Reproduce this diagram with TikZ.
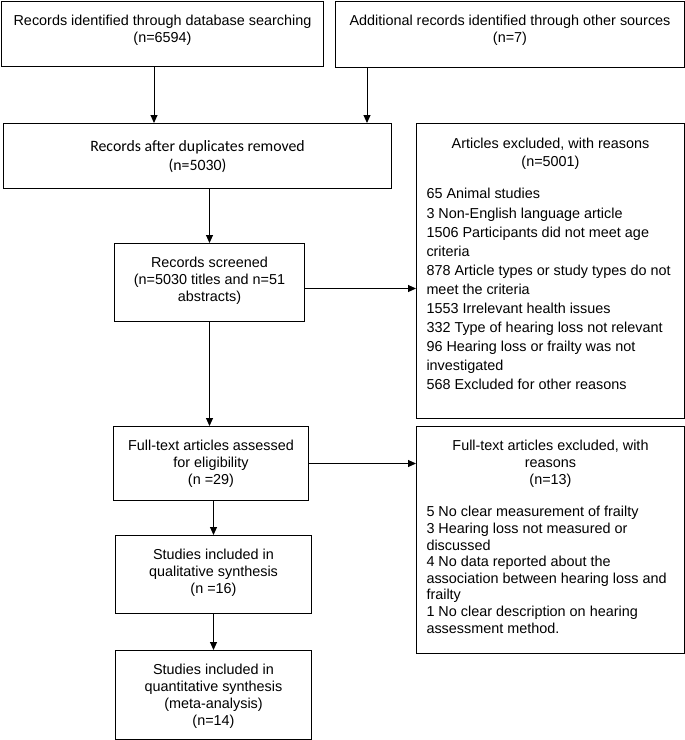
\documentclass[tikz,border=0pt]{standalone}
\usepackage{fontspec}
\setmainfont{Liberation Sans}
\newfontfamily\calfont{Carlito}
\usepackage{tikz}
\usetikzlibrary{arrows.meta,positioning}

\begin{document}
\begin{tikzpicture}[x=1pt, y=-1pt, line width=1pt, >={Triangle[length=8pt,width=7pt]},
  box/.style={draw, inner sep=0, anchor=north west},
  txt/.style={inner sep=0, anchor=north, align=center, font=\fontsize{14.4}{17}\selectfont},
  lst/.style={inner sep=0, anchor=north west, align=left, font=\fontsize{14.4}{#1}\selectfont}]
 \useasboundingbox (0,0) rectangle (685,740);
 % boxes
 \node[box, minimum width=322, minimum height=65] (srch) at (1,1) {};
 \node[box, minimum width=349, minimum height=66] (other) at (335,1) {};
 \node[box, minimum width=388, minimum height=65] (dedup) at (3,123) {};
 \node[box, minimum width=268, minimum height=295] (excl) at (416,123) {};
 \node[box, minimum width=190, minimum height=78] (screen) at (114,243) {};
 \node[box, minimum width=195, minimum height=74] (full) at (113,426) {};
 \node[box, minimum width=268, minimum height=227] (fexcl) at (416,426) {};
 \node[box, minimum width=196, minimum height=78] (qual) at (115,535) {};
 \node[box, minimum width=196, minimum height=89] (quant) at (115,650) {};
 % texts
 \node[txt, below=14pt of srch.north] (srch-t) {Records identified through database searching\\(n=6594)};
 \node[txt, below=14pt of other.north] (other-t) {Additional records identified through other sources\\(n=7)};
 \node[txt, below=17pt of dedup.north, font=\calfont\fontsize{15.8}{19}\selectfont] (dedup-t) {Records after duplicates removed\\(n=5030)};
 \node[txt, below=15pt of excl.north, font=\fontsize{14.4}{18}\selectfont] (excl-t) {Articles excluded, with reasons\\(n=5001)};
 \node[lst=19.1, below right=65pt and 10pt of excl.north west] (excl-l) {65 Animal studies\\
  3 Non-English language article\\
  1506 Participants did not meet age\\
  criteria\\
  878 Article types or study types do not\\
  meet the criteria\\
  1553 Irrelevant health issues\\
  332 Type of hearing loss not relevant\\
  96 Hearing loss or frailty was not\\
  investigated\\
  568 Excluded for other reasons};
 \node[txt, below=14pt of screen.north] (screen-t) {Records screened\\(n=5030 titles and n=51\\abstracts)};
 \node[txt, below=14pt of full.north] (full-t) {Full-text articles assessed\\for eligibility\\(n =29)};
 \node[txt, below=14pt of fexcl.north] (fexcl-t) {Full-text articles excluded, with\\reasons\\(n=13)};
 \node[lst=16.6, below right=80pt and 10pt of fexcl.north west] (fexcl-l) {5 No clear measurement of frailty\\
  3 Hearing loss not measured or\\
  discussed\\
  4 No data reported about the\\
  association between hearing loss and\\
  frailty\\
  1 No clear description on hearing\\
  assessment method.};
 \node[txt, below=14pt of qual.north] (qual-t) {Studies included in\\qualitative synthesis\\(n =16)};
 \node[txt, below=14pt of quant.north] (quant-t) {Studies included in\\quantitative synthesis\\(meta-analysis)\\(n=14)};
 % arrows
 \draw[->] (154,0 |- srch.south) -- (154,0 |- dedup.north);
 \draw[->] (367,0 |- other.south) -- (367,0 |- dedup.north);
 \draw[->] (screen.north |- dedup.south) -- (screen.north);
 \draw[->] ([yshift=-6pt]screen.east) -- ([yshift=-6pt]screen.east -| excl.west);
 \draw[->] (screen.south) -- (screen.south |- full.north);
 \draw[->] (full.east) -- (full.east -| fexcl.west);
 \draw[->] (qual.north |- full.south) -- (qual.north);
 \draw[->] (qual.south) -- (quant.north);
\end{tikzpicture}
\end{document}
